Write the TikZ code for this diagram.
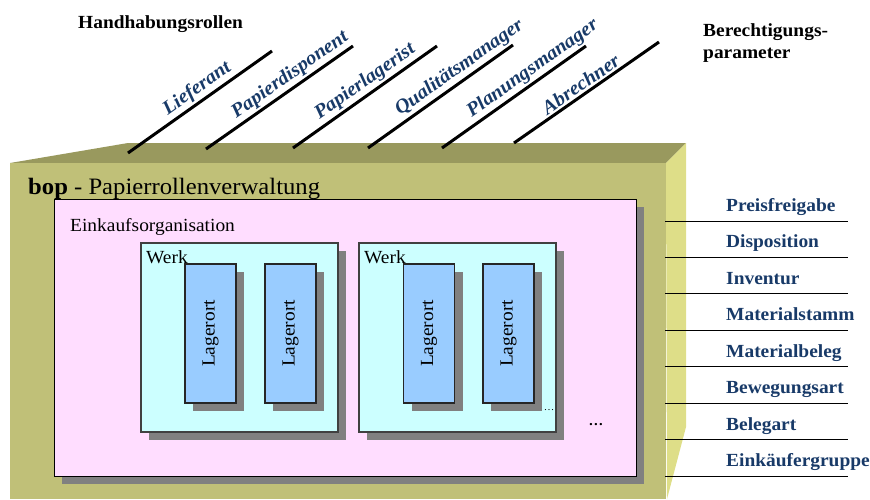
\documentclass[tikz,border=0pt]{standalone}
\usepackage{fontspec}
\setmainfont{Liberation Serif}[FakeStretch=1.05]
\usetikzlibrary{shadows}

\definecolor{frontcol}{RGB}{192,192,120}
\definecolor{topcol}{RGB}{153,153,94}
\definecolor{sidecol}{RGB}{222,222,136}
\definecolor{ekcol}{RGB}{255,221,255}
\definecolor{werkcol}{RGB}{204,255,255}
\definecolor{lagercol}{RGB}{153,204,255}
\definecolor{shadowcol}{RGB}{128,128,128}
\definecolor{rolecol}{RGB}{24,58,104}

\begin{document}
\begin{tikzpicture}
  [x=1pt,y=-1pt,every node/.style={inner sep=0pt},
   boxshadow/.style={drop shadow={shadow xshift=8pt,shadow yshift=-8pt,fill=shadowcol,opacity=1}},
   box/.style={draw,boxshadow},
   ekbox/.style={box,fill=ekcol,line width=.8pt,minimum width=582pt,minimum height=277pt},
   werkbox/.style={box,fill=werkcol,draw=black!75,line width=1.2pt,minimum width=197pt,minimum height=189pt},
   lagerbox/.style={box,fill=lagercol,draw=black!85,line width=1.2pt,minimum width=51pt,minimum height=139pt,font=\fontsize{18.5}{20}\selectfont},
   txt/.style={font=\fontsize{18.5}{22}\selectfont},
   headtxt/.style={font=\fontsize{18.5}{22}\selectfont\bfseries},
   role/.style={font=\fontsize{19.5}{20}\selectfont\bfseries\itshape,text=rolecol},
   param/.style={font=\fontsize{18.5}{20}\selectfont\bfseries,text=rolecol}]
  \useasboundingbox (0,0) rectangle (870,499);

  % the body
  \fill[topcol] (10,163) -- (128,143) -- (686,143) -- (666,163) -- cycle;
  \fill[sidecol] (666,163) -- (686,143) -- (686,427) -- (667,499) -- cycle;
  \fill[frontcol] (10,163) rectangle (666,499);

  \node[headtxt,anchor=base west] (hrollen) at (78,28) {Handhabungsrollen};
  \node[headtxt,anchor=north west,align=left] (bparam) at (703,23) {Berechtigungs-\\parameter};
  \node[anchor=base west,font=\fontsize{23.5}{26}\selectfont] (bop) at (28,194) {\textbf{bop} - Papierrollenverwaltung};

  % roles
  \coordinate (ra1) at (128,153); \coordinate (rb1) at (272,51);
  \coordinate (ra2) at (206,149); \coordinate (rb2) at (353,46);
  \coordinate (ra3) at (293,148); \coordinate (rb3) at (437,46);
  \coordinate (ra4) at (368,148); \coordinate (rb4) at (513,45);
  \coordinate (ra5) at (442,148); \coordinate (rb5) at (586,46);
  \coordinate (ra6) at (514,143); \coordinate (rb6) at (659,42);
  \foreach \i/\name/\p in {1/Lieferant/.53, 2/Papierdisponent/.62, 3/Papierlagerist/.55,
                           4/Qualitätsmanager/.68, 5/Planungsmanager/.68, 6/Abrechner/.5}
    \draw[line width=3pt] (ra\i) -- (rb\i) node[role,sloped,above=2pt,pos=\p] {\name};

  % parameters
  \foreach \name [count=\i] in {Preisfreigabe,Disposition,Inventur,Materialstamm,
                                Materialbeleg,Bewegungsart,Belegart,Einkäufergruppe} {
    \coordinate (pa\i) at (665,{221+36.43*(\i-1)});
    \coordinate (pb\i) at (848,{221+36.43*(\i-1)});
    \draw[line width=1pt] (pa\i) -- (pb\i);
    \node[param,anchor=base west] (par\i) at (726,{211.5+36.43*(\i-1)}) {\name};
  }

  % organisation
  \node[ekbox] (ekorg) at (345,337.5) {};
  \node[txt,anchor=base west] (eklabel) at (70,231) {Einkaufsorganisation};
  \node[werkbox] (werk1) at (239.5,337.5) {};
  \node[werkbox] (werk2) at (457.5,337.5) {};
  \node[txt,anchor=base west] (wlabel1) at (146,263) {Werk};
  \node[txt,anchor=base west] (wlabel2) at (364,263) {Werk};
  \foreach \i/\x in {1/210.5,2/290.5,3/429,4/508.5}
    \node[lagerbox] (lager\i) at (\x,333.5) {\rotatebox{90}{Lagerort}};

  \node[anchor=base,font=\fontsize{10}{10}\selectfont] (dots1) at (549,410) {…};
  \node[anchor=base,font=\fontsize{14}{14}\selectfont\bfseries] (dots2) at (596,425) {…};

\end{tikzpicture}
\end{document}
